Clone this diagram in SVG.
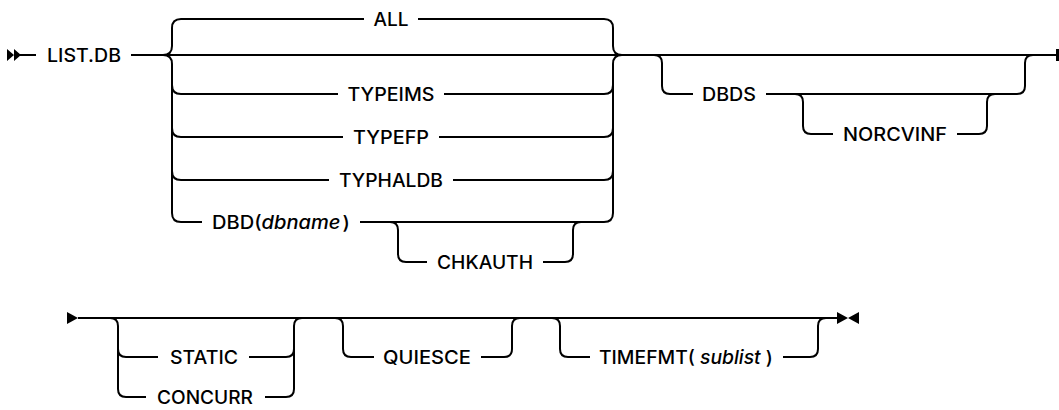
<svg xmlns="http://www.w3.org/2000/svg" width="1059" height="410" viewBox="0 0 1059 410">
<style>
.c{fill:none;stroke:#000;stroke-width:2;stroke-linejoin:round}
.t{font-family:Inter,"Liberation Sans",Arial,sans-serif;font-size:18.5px;font-weight:500;fill:#000}
.i{font-style:italic}
.m{fill:#000}
</style>
<rect width="1059" height="410" fill="#fff"/>
<g id="connectors">
<path class="c" d="M20,55 H36"/>
<path class="c" d="M131,55 H1057"/>
<path class="c" d="M163,55 Q172,55 172,46 V28 Q172,19 181,19 H364"/>
<path class="c" d="M163,55 Q172,55 172,64 V213 Q172,222 181,222 H202"/>
<path class="c" d="M172,85 Q172,94 181,94 H338"/>
<path class="c" d="M172,128 Q172,137 181,137 H343"/>
<path class="c" d="M172,171 Q172,180 181,180 H329"/>
<path class="c" d="M418,19 H604 Q613,19 613,28 V46 Q613,55 622,55"/>
<path class="c" d="M622,55 Q613,55 613,64 V213 Q613,222 604,222 H360"/>
<path class="c" d="M444,94 H604 Q613,94 613,85"/>
<path class="c" d="M439,137 H604 Q613,137 613,128"/>
<path class="c" d="M453,180 H604 Q613,180 613,171"/>
<path class="c" d="M390,222 Q398,222 398,230 V254 Q398,262 406,262 H427"/>
<path class="c" d="M543,262 H565 Q573,262 573,254 V230 Q573,222 581,222"/>
<path class="c" d="M654,55 Q662,55 662,63 V86 Q662,94 670,94 H693"/>
<path class="c" d="M766,94 H1017 Q1025,94 1025,86 V63 Q1025,55 1033,55"/>
<path class="c" d="M795,94 Q803,94 803,102 V126 Q803,134 811,134 H833"/>
<path class="c" d="M957,134 H979 Q987,134 987,126 V102 Q987,94 995,94"/>
<path class="c" d="M78,318 H838"/>
<path class="c" d="M110,318 Q118,318 118,326 V349 Q118,357 126,357 H158"/>
<path class="c" d="M118,349 V389 Q118,397 126,397 H146"/>
<path class="c" d="M249,357 H286 Q294,357 294,349"/>
<path class="c" d="M265,397 H286 Q294,397 294,389 V326 Q294,318 302,318"/>
<path class="c" d="M335,318 Q343,318 343,326 V349 Q343,357 351,357 H374"/>
<path class="c" d="M481,357 H504 Q512,357 512,349 V326 Q512,318 520,318"/>
<path class="c" d="M552,318 Q560,318 560,326 V349 Q560,357 568,357 H590"/>
<path class="c" d="M783,357 H810 Q818,357 818,349 V326 Q818,318 826,318"/>
</g>
<g id="markers">
<path class="m" d="M7,49 L14,55 L7,61 Z M14,49 L21,55 L14,61 Z"/>
<rect class="m" x="1056" y="49" width="3" height="12"/>
<path class="m" d="M67,312 L78,318 L67,324 Z"/>
<path class="m" d="M837,312 L848,318 L837,324 Z M859,312 L848,318 L859,324 Z"/>
</g>
<g id="n-listdb"><text class="t" x="47" y="62" textLength="74" lengthAdjust="spacingAndGlyphs">LIST.DB</text></g>
<g id="n-all"><text class="t" x="391" y="26" text-anchor="middle" textLength="35" lengthAdjust="spacingAndGlyphs">ALL</text></g>
<g id="n-typeims"><text class="t" x="391" y="101" text-anchor="middle" textLength="87" lengthAdjust="spacingAndGlyphs">TYPEIMS</text></g>
<g id="n-typefp"><text class="t" x="391" y="144" text-anchor="middle" textLength="76" lengthAdjust="spacingAndGlyphs">TYPEFP</text></g>
<g id="n-typhaldb"><text class="t" x="391" y="187" text-anchor="middle" textLength="104" lengthAdjust="spacingAndGlyphs">TYPHALDB</text></g>
<g id="n-dbd"><text class="t" x="212" y="229" textLength="138" lengthAdjust="spacingAndGlyphs">DBD(<tspan class="i">dbname</tspan><tspan dx="2">)</tspan></text></g>
<g id="n-chkauth"><text class="t" x="485" y="269" text-anchor="middle" textLength="96" lengthAdjust="spacingAndGlyphs">CHKAUTH</text></g>
<g id="n-dbds"><text class="t" x="702" y="101" textLength="54" lengthAdjust="spacingAndGlyphs">DBDS</text></g>
<g id="n-norcvinf"><text class="t" x="895" y="141" text-anchor="middle" textLength="104" lengthAdjust="spacingAndGlyphs">NORCVINF</text></g>
<g id="n-static"><text class="t" x="204" y="364" text-anchor="middle" textLength="68" lengthAdjust="spacingAndGlyphs">STATIC</text></g>
<g id="n-concurr"><text class="t" x="205" y="404" text-anchor="middle" textLength="96" lengthAdjust="spacingAndGlyphs">CONCURR</text></g>
<g id="n-quiesce"><text class="t" x="427" y="364" text-anchor="middle" textLength="88" lengthAdjust="spacingAndGlyphs">QUIESCE</text></g>
<g id="n-timefmt"><text class="t" x="599" y="364" textLength="174" lengthAdjust="spacingAndGlyphs">TIMEFMT( <tspan class="i">sublist</tspan> )</text></g>
</svg>
